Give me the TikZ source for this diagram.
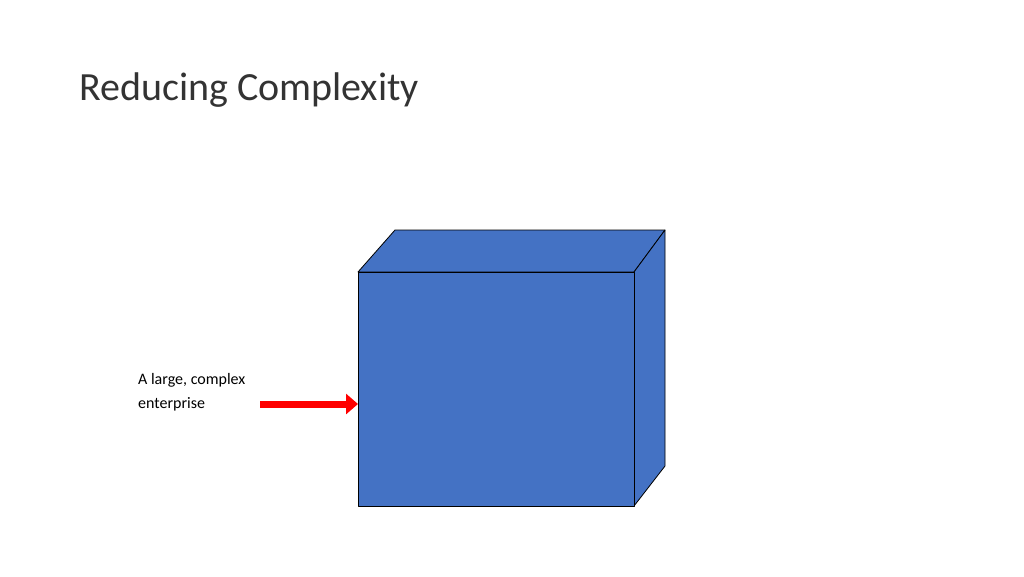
\documentclass[tikz,border=0pt]{standalone}
\usepackage{fontspec}
\setmainfont{Carlito}
\usetikzlibrary{arrows.meta}
\definecolor{boxblue}{HTML}{4472C4}
\tikzset{face/.style={fill=boxblue,draw=black,line width=0.8pt,line join=round}}
\begin{document}
\begin{tikzpicture}[x=1pt,y=-1pt]
\useasboundingbox (0,0) rectangle (1024,576);
\node[anchor=base west,inner sep=0,font=\fontsize{40}{48}\selectfont,text=black!80] (title) at (79,100) {Reducing Complexity};
\draw[face] (358,272) -- (395,230) -- (665,230) -- (634,272) -- cycle;
\draw[face] (634,272) -- (665,230) -- (665,466) -- (634,506) -- cycle;
\node[face,draw,minimum width=276pt,minimum height=234pt,anchor=north west,inner sep=0] (front) at (358,272) {};
\node[anchor=north west,inner sep=0,align=left,font=\fontsize{16}{24}\selectfont] (lab) at (138,373) {A large, complex\\enterprise};
\coordinate (tail) at (260,404);
\draw[red,line width=7pt,-{Triangle[length=12pt,width=20pt]}] (tail) -- (front.west|-tail);
\end{tikzpicture}
\end{document}
